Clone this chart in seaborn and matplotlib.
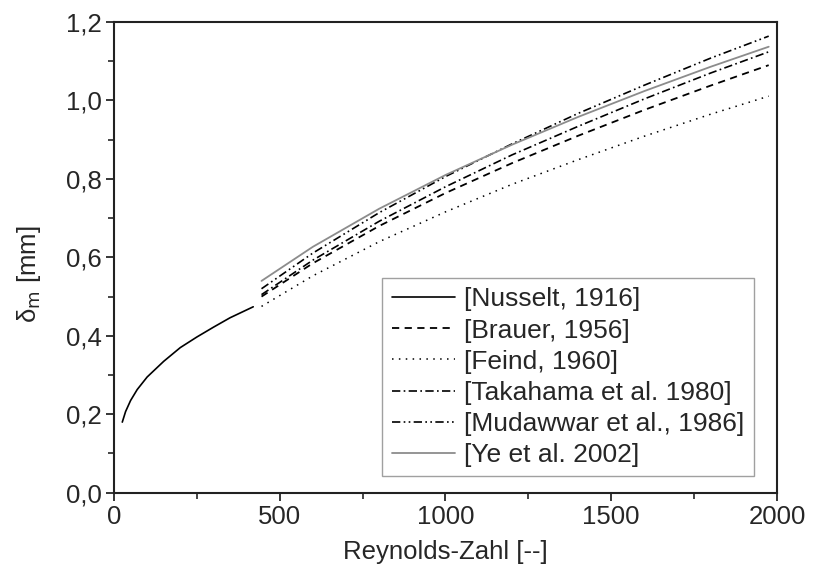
import numpy as np
import pandas as pd
import matplotlib
matplotlib.use("Agg")
import matplotlib.pyplot as plt
import seaborn as sns
from matplotlib.ticker import MultipleLocator, FuncFormatter

# Values
re_nusselt = [25, 35, 50, 70, 100, 150, 200, 250, 300, 350, 420]
d_nusselt = [0.18, 0.207, 0.235, 0.263, 0.295, 0.335, 0.37, 0.397, 0.422, 0.446, 0.474]

re_corr = [445, 600, 800, 1000, 1200, 1400, 1600, 1800, 1975]
d_brauer = [0.50, 0.585, 0.68, 0.764, 0.84, 0.91, 0.976, 1.038, 1.09]
d_feind = [0.475, 0.553, 0.64, 0.716, 0.786, 0.849, 0.909, 0.965, 1.011]
d_takahama = [0.505, 0.593, 0.692, 0.780, 0.861, 0.934, 1.004, 1.070, 1.124]
d_mudawwar = [0.52, 0.611, 0.714, 0.806, 0.889, 0.967, 1.039, 1.108, 1.164]
d_ye = [0.54, 0.627, 0.724, 0.81, 0.887, 0.958, 1.024, 1.086, 1.137]

labels = ["[Nusselt, 1916]", "[Brauer, 1956]", "[Feind, 1960]",
          "[Takahama et al. 1980]", "[Mudawwar et al., 1986]", "[Ye et al. 2002]"]

sns.set_style("ticks")
plt.rcParams['font.family'] = ['Liberation Sans', 'DejaVu Sans']

fig = plt.figure(figsize=(8.16, 5.72), dpi=100)
ax = fig.add_axes([0.1397, 0.1386, 0.8125, 0.8229])

# series: (x, y, label, colour, linestyle, width)
series = [
    (re_nusselt, d_nusselt, labels[0], "black", "-", 1.2),
    (re_corr, d_brauer, labels[1], "black", (0, (4, 3)), 1.3),
    (re_corr, d_feind, labels[2], "black", (0, (1, 3.5)), 1.1),
    (re_corr, d_takahama, labels[3], "black", (0, (5, 2, 1, 2)), 1.2),
    (re_corr, d_mudawwar, labels[4], "black", (0, (5, 2, 1, 2, 1, 2)), 1.2),
    (re_corr, d_ye, labels[5], "#8c8c8c", "-", 1.3),
]

for x, y, lab, col, ls, lw in series:
    df = pd.DataFrame({"Re": x, "delta": y})
    sns.lineplot(data=df, x="Re", y="delta", ax=ax, color=col,
                 linestyle=ls, linewidth=lw, label=lab)

ax.set_xlim(0, 2000)
ax.set_ylim(0, 1.2)
ax.xaxis.set_major_locator(MultipleLocator(500))
ax.xaxis.set_minor_locator(MultipleLocator(250))
ax.yaxis.set_major_locator(MultipleLocator(0.2))
ax.yaxis.set_minor_locator(MultipleLocator(0.1))
ax.yaxis.set_major_formatter(FuncFormatter(lambda v, p: f"{v:.1f}".replace(".", ",")))

ax.tick_params(which="major", direction="out", length=6, width=1.3, labelsize=18.5, pad=3)
ax.tick_params(which="minor", direction="out", length=4, width=1.2)
for s in ax.spines.values():
    s.set_linewidth(1.5)
    s.set_color("#222222")

ax.set_xlabel("Reynolds-Zahl [--]", fontsize=18.5, labelpad=8)
ax.set_ylabel(r"δ$_\mathrm{m}$ [mm]", fontsize=18.5)
ax.yaxis.set_label_coords(-0.107, 0.465)

leg = ax.legend(loc="lower right", bbox_to_anchor=(0.965, 0.035), fontsize=19,
                frameon=True, fancybox=False, handlelength=2.4, labelspacing=0.27,
                borderpad=0.35, handletextpad=0.35, borderaxespad=0)
leg.get_frame().set_edgecolor("#888888")
leg.get_frame().set_linewidth(1.0)

fig.savefig("out.png", dpi=100)
